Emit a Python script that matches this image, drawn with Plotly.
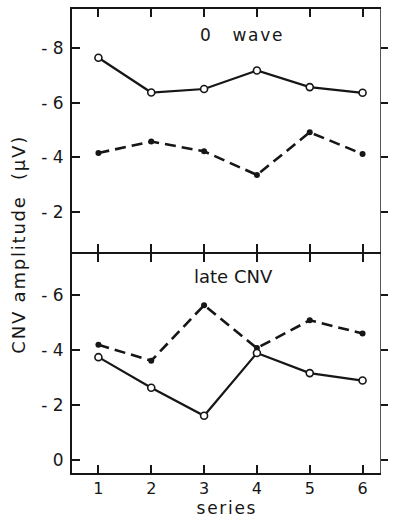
import plotly.graph_objects as go

# Amplitudes (µV) per series; negative is plotted upward
series = [1, 2, 3, 4, 5, 6]
o_wave_solid = [-7.66, -6.38, -6.51, -7.19, -6.58, -6.37]
o_wave_dashed = [-4.16, -4.58, -4.22, -3.35, -4.92, -4.12]
late_cnv_solid = [-3.73, -2.62, -1.60, -3.88, -3.15, -2.88]
late_cnv_dashed = [-4.18, -3.60, -5.62, -4.06, -5.07, -4.59]

top_ticks = [-8, -6, -4, -2]
top_tick_text = ["- 8", "- 6", "- 4", "- 2"]
bottom_ticks = [-6, -4, -2, 0]
bottom_tick_text = ["- 6", "- 4", "- 2", "0"]

INK = "#161616"
FONT = "DejaVu Sans"

fig = go.Figure()


def solid(x, y, xa, ya):
    return go.Scatter(
        x=x, y=y, xaxis=xa, yaxis=ya, mode="lines+markers",
        line=dict(color=INK, width=2.2),
        marker=dict(symbol="circle", size=7, color="white",
                    line=dict(color=INK, width=1.6)),
        showlegend=False, hoverinfo="skip",
    )


def dashed(x, y, xa, ya):
    return go.Scatter(
        x=x, y=y, xaxis=xa, yaxis=ya, mode="lines+markers",
        line=dict(color=INK, width=2.6, dash="11px,6px"),
        marker=dict(symbol="circle", size=6, color=INK),
        showlegend=False, hoverinfo="skip",
    )


fig.add_trace(dashed(series, o_wave_dashed, "x2", "y2"))
fig.add_trace(solid(series, o_wave_solid, "x2", "y2"))
fig.add_trace(dashed(series, late_cnv_dashed, "x", "y"))
fig.add_trace(solid(series, late_cnv_solid, "x", "y"))

# empty traces so the right-hand tick axes are drawn
fig.add_trace(go.Scatter(x=[], y=[], xaxis="x", yaxis="y3", showlegend=False))
fig.add_trace(go.Scatter(x=[], y=[], xaxis="x2", yaxis="y4", showlegend=False))

plot_h = 521 - 8 - 46
split = 0.472
gap = 2 / plot_h  # lets the two panels share one boundary line
x_range = [0.5, 6.33]
top_range = [-0.52, -9.45]
bottom_range = [0.48, -7.48]

xcommon = dict(
    range=x_range, tickvals=series, ticks="inside", ticklen=8, tickwidth=2,
    tickcolor=INK, showline=True, linecolor=INK, linewidth=2,
    mirror="ticks", showgrid=False, zeroline=False,
)
ycommon = dict(
    ticks="inside", ticklen=8, tickwidth=2, tickcolor=INK,
    showline=True, linecolor=INK, linewidth=2, showgrid=False,
    zeroline=False, tickfont=dict(family=FONT, size=17, color=INK),
    ticklabelstandoff=3,
)
yright = dict(
    side="right", ticks="outside", ticklen=7, tickwidth=2, tickcolor=INK,
    showline=True, linecolor="#555555", linewidth=1, showgrid=False,
    zeroline=False, showticklabels=False,
)

hair = "\u200a"
ytitle = hair.join("CNV amplitude") + "\u00a0\u00a0\u00a0" + hair.join("(µV)")

fig.update_layout(
    width=394, height=521,
    margin=dict(l=72, r=7, t=8, b=46),
    paper_bgcolor="white", plot_bgcolor="white",
    font=dict(family=FONT, color=INK),
    xaxis=dict(
        **xcommon, anchor="y", domain=[0, 1],
        tickfont=dict(family=FONT, size=16, color=INK),
        title=dict(text=hair.join("series"), standoff=4,
                   font=dict(family=FONT, size=17, color=INK)),
    ),
    xaxis2=dict(**xcommon, anchor="y2", domain=[0, 1], matches="x",
                showticklabels=False),
    yaxis=dict(**ycommon, domain=[0, split], range=bottom_range,
               tickvals=bottom_ticks, ticktext=bottom_tick_text, anchor="x"),
    yaxis2=dict(**ycommon, domain=[split + gap, 1], range=top_range,
                tickvals=top_ticks, ticktext=top_tick_text, anchor="x2"),
    yaxis3=dict(**yright, overlaying="y", range=bottom_range,
                tickvals=bottom_ticks, anchor="x"),
    yaxis4=dict(**yright, overlaying="y2", range=top_range,
                tickvals=top_ticks, anchor="x2"),
    annotations=[
        dict(text="0\u00a0\u00a0\u00a0\u00a0" + hair.join("wave"),
             xref="paper", yref="paper",
             x=0.41, y=0.943, xanchor="left", yanchor="middle",
             showarrow=False, font=dict(family=FONT, size=17, color=INK)),
        dict(text="late CNV", xref="paper", yref="paper",
             x=0.39, y=0.423, xanchor="left", yanchor="middle",
             showarrow=False, font=dict(family=FONT, size=18, color=INK)),
        dict(text=ytitle, xref="paper", yref="paper",
             x=-0.172, y=0.49, xanchor="center", yanchor="middle",
             textangle=-90, showarrow=False,
             font=dict(family=FONT, size=18, color=INK)),
    ],
)

fig.write_html("out.html")
